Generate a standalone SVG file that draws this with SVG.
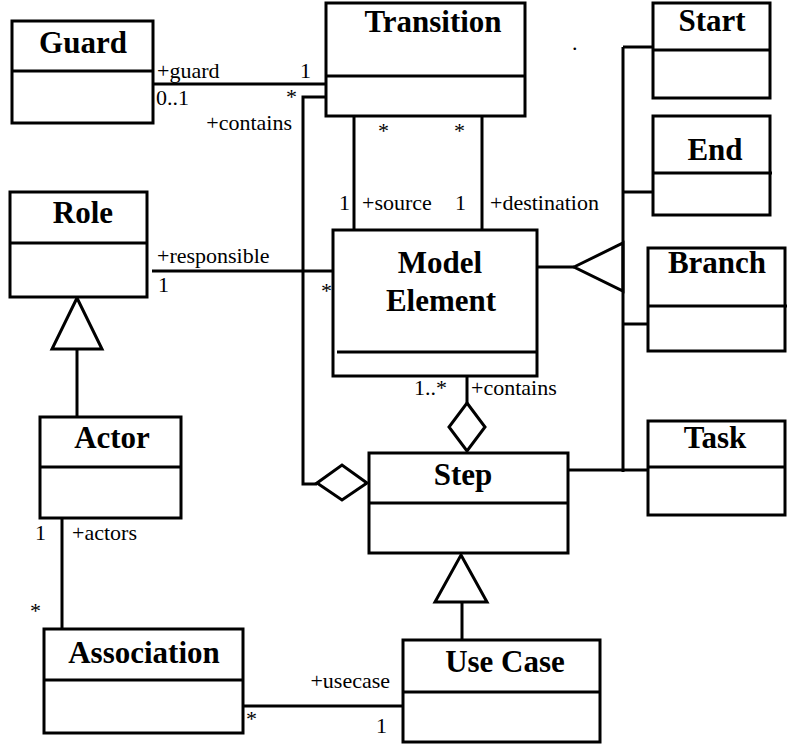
<svg xmlns="http://www.w3.org/2000/svg" width="789" height="744" viewBox="0 0 789 744">
<style>
.box{fill:#fff;stroke:#000;stroke-width:3}
.ln{fill:none;stroke:#000;stroke-width:3}
.hol{fill:#fff;stroke:#000;stroke-width:3}
.nm{font-family:"Times New Roman",Times,"Liberation Serif",Tinos,"Noto Serif","Nimbus Roman",FreeSerif,"DejaVu Serif",serif;font-weight:bold;font-size:31px;text-anchor:middle;fill:#000}
.lb{font-family:"Times New Roman",Times,"Liberation Serif",Tinos,"Noto Serif","Nimbus Roman",FreeSerif,"DejaVu Serif",serif;font-size:22px;fill:#000}
.end{text-anchor:end}
</style>
<rect width="789" height="744" fill="#fff"/>
<g id="connectors">
<line class="ln" x1="152" y1="84" x2="330" y2="84"/>
<polyline class="ln" points="328,97 303,97 303,484 317,484"/>
<polygon class="hol" points="317,483 342,465 367,483 342,500"/>
<line class="ln" x1="354" y1="116" x2="354" y2="230"/>
<line class="ln" x1="482" y1="116" x2="482" y2="230"/>
<line class="ln" x1="152" y1="271" x2="337" y2="271"/>
<polygon class="hol" points="77,298 102,349 52,349"/>
<line class="ln" x1="77" y1="349" x2="77" y2="417"/>
<line class="ln" x1="62" y1="518" x2="62" y2="630"/>
<line class="ln" x1="243" y1="706" x2="408" y2="706"/>
<polygon class="hol" points="461,555 487,602 435,602"/>
<line class="ln" x1="462" y1="602" x2="462" y2="640"/>
<line class="ln" x1="467" y1="376" x2="467" y2="403"/>
<polygon class="hol" points="467,403 485,427 467,451 449,427"/>
<line class="ln" x1="537" y1="267" x2="574" y2="267"/>
<polygon class="hol" points="574,267 623,243 623,291"/>
<line class="ln" x1="623" y1="47" x2="623" y2="472"/>
<line class="ln" x1="623" y1="47" x2="655" y2="47"/>
<line class="ln" x1="623" y1="192" x2="657" y2="192"/>
<line class="ln" x1="623" y1="324" x2="648" y2="324"/>
<line class="ln" x1="568" y1="470" x2="648" y2="470"/>
</g>
<g id="labels">
<text class="lb" x="157" y="78">+guard</text>
<text class="lb" x="300" y="78">1</text>
<text class="lb" x="156" y="105">0..1</text>
<text class="lb" x="286" y="104">*</text>
<text class="lb end" x="292" y="130">+contains</text>
<text class="lb" x="378" y="138">*</text>
<text class="lb" x="454" y="138">*</text>
<text class="lb" x="339" y="210">1</text>
<text class="lb" x="362" y="210">+source</text>
<text class="lb" x="455" y="210">1</text>
<text class="lb" x="490" y="210">+destination</text>
<text class="lb" x="157" y="263">+responsible</text>
<text class="lb" x="158" y="292">1</text>
<text class="lb" x="321" y="298">*</text>
<text class="lb end" x="447" y="395">1..*</text>
<text class="lb" x="471" y="395">+contains</text>
<text class="lb" x="35" y="540">1</text>
<text class="lb" x="72" y="540">+actors</text>
<text class="lb" x="30" y="618">*</text>
<text class="lb end" x="390" y="688">+usecase</text>
<text class="lb" x="246" y="726">*</text>
<text class="lb" x="376" y="733">1</text>
<text class="lb" x="572" y="50">.</text>
</g>
<g id="nodes">
<g id="guard"><rect class="box" x="12" y="21" width="141" height="102"/><line class="ln" x1="12" y1="71" x2="153" y2="71"/><text class="nm" x="83" y="53">Guard</text></g>
<g id="transition"><rect class="box" x="326" y="3" width="199" height="113"/><line class="ln" x1="326" y1="76" x2="525" y2="76"/><text class="nm" x="433" y="32">Transition</text></g>
<g id="start"><rect class="box" x="653" y="3" width="117" height="95"/><line class="ln" x1="653" y1="50" x2="770" y2="50"/><text class="nm" x="712" y="31">Start</text></g>
<g id="end"><rect class="box" x="653" y="116" width="117" height="99"/><line class="ln" x1="653" y1="173" x2="772" y2="173"/><text class="nm" x="715" y="160">End</text></g>
<g id="role"><rect class="box" x="10" y="192" width="137" height="105"/><line class="ln" x1="10" y1="243" x2="147" y2="243"/><text class="nm" x="83" y="223">Role</text></g>
<g id="model-element"><rect class="box" x="333" y="230" width="204" height="146"/><line class="ln" x1="337" y1="352" x2="536" y2="352"/><text class="nm" x="440" y="273">Model</text><text class="nm" x="441" y="311">Element</text></g>
<g id="branch"><rect class="box" x="648" y="248" width="137" height="103"/><line class="ln" x1="648" y1="306" x2="787" y2="306"/><text class="nm" x="717" y="273">Branch</text></g>
<g id="actor"><rect class="box" x="40" y="417" width="141" height="101"/><line class="ln" x1="40" y1="467" x2="181" y2="467"/><text class="nm" x="112" y="448">Actor</text></g>
<g id="step"><rect class="box" x="369" y="453" width="199" height="100"/><line class="ln" x1="369" y1="503" x2="568" y2="503"/><text class="nm" x="463" y="485">Step</text></g>
<g id="task"><rect class="box" x="648" y="421" width="137" height="94"/><line class="ln" x1="648" y1="467" x2="785" y2="467"/><text class="nm" x="715" y="448">Task</text></g>
<g id="association"><rect class="box" x="44" y="629" width="199" height="104"/><line class="ln" x1="44" y1="680" x2="243" y2="680"/><text class="nm" x="144" y="663">Association</text></g>
<g id="use-case"><rect class="box" x="403" y="640" width="197" height="102"/><line class="ln" x1="403" y1="692" x2="600" y2="692"/><text class="nm" x="505" y="672">Use Case</text></g>
</g>
</svg>
